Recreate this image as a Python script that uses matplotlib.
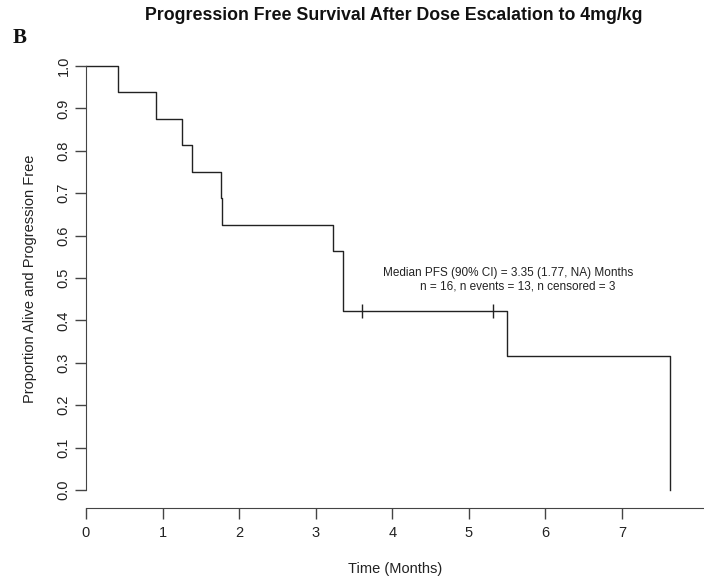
import matplotlib
matplotlib.use("Agg")
import matplotlib.pyplot as plt

# Kaplan-Meier step values
times = [0, 0.42, 0.92, 1.25, 1.38, 1.76, 1.78, 3.23, 3.35, 5.50, 7.62]
surv = [1.0, 0.9375, 0.875, 0.8125, 0.75, 0.6875, 0.625, 0.5625, 0.4219, 0.3164, 0.0]
cens_times = [3.60, 5.31]
cens_surv = [0.4219, 0.4219]

xticks = [0, 1, 2, 3, 4, 5, 6, 7]
yticks = [0.0, 0.1, 0.2, 0.3, 0.4, 0.5, 0.6, 0.7, 0.8, 0.9, 1.0]

plt.rcParams['font.family'] = ['Liberation Sans', 'DejaVu Sans']

W, H = 704, 587
fig = plt.figure(figsize=(W / 100, H / 100), dpi=100)
# axes box in pixels: left 86, right 704, top 49, bottom 508
ax = fig.add_axes([86 / W, (H - 508) / H, (W - 86) / W, (508 - 49) / H])

ax.step(times, surv, where='post', color='#222222', lw=1.0)
ax.plot(cens_times, cens_surv, ls='none', marker='|', ms=10, mew=1.0, color='#222222')

ax.set_xlim(0, 8.07)
ax.set_ylim(-0.0425, 1.04)

for s in ['top', 'right']:
    ax.spines[s].set_visible(False)
ax.spines['left'].set_bounds(0, 1)
ax.spines['left'].set_color('#444444')
ax.spines['bottom'].set_color('#444444')

ax.set_xticks(xticks)
ax.set_xticklabels([str(t) for t in xticks])
ax.set_yticks(yticks)
ax.set_yticklabels(['%.1f' % t for t in yticks], rotation=90, va='center')
ax.tick_params(axis='both', length=8, width=1.0, color='#444444',
               labelsize=10.5, labelcolor='#222222')
ax.tick_params(axis='x', pad=5)
ax.tick_params(axis='y', pad=3)

ax.set_xlabel('Time (Months)', fontsize=10.5, color='#222222', labelpad=16)
ax.set_ylabel('Proportion Alive and Progression Free', fontsize=10.5,
              color='#222222', labelpad=14)

ax.text(5.51, 0.512, 'Median PFS (90% CI) = 3.35 (1.77, NA) Months',
        ha='center', va='center', fontsize=8.5, color='#222222')
ax.text(5.64, 0.480, 'n = 16, n events = 13, n censored = 3',
        ha='center', va='center', fontsize=8.5, color='#222222')

fig.text(394 / W, 1 - 15 / H, 'Progression Free Survival After Dose Escalation to 4mg/kg',
         ha='center', va='center', fontsize=12.8, fontweight='bold', color='#111111')
fig.text(20 / W, 1 - 38 / H, 'B', ha='center', va='center', fontsize=15,
         fontweight='bold', family='Liberation Serif', color='#111111')

fig.savefig('out.png', dpi=100)
